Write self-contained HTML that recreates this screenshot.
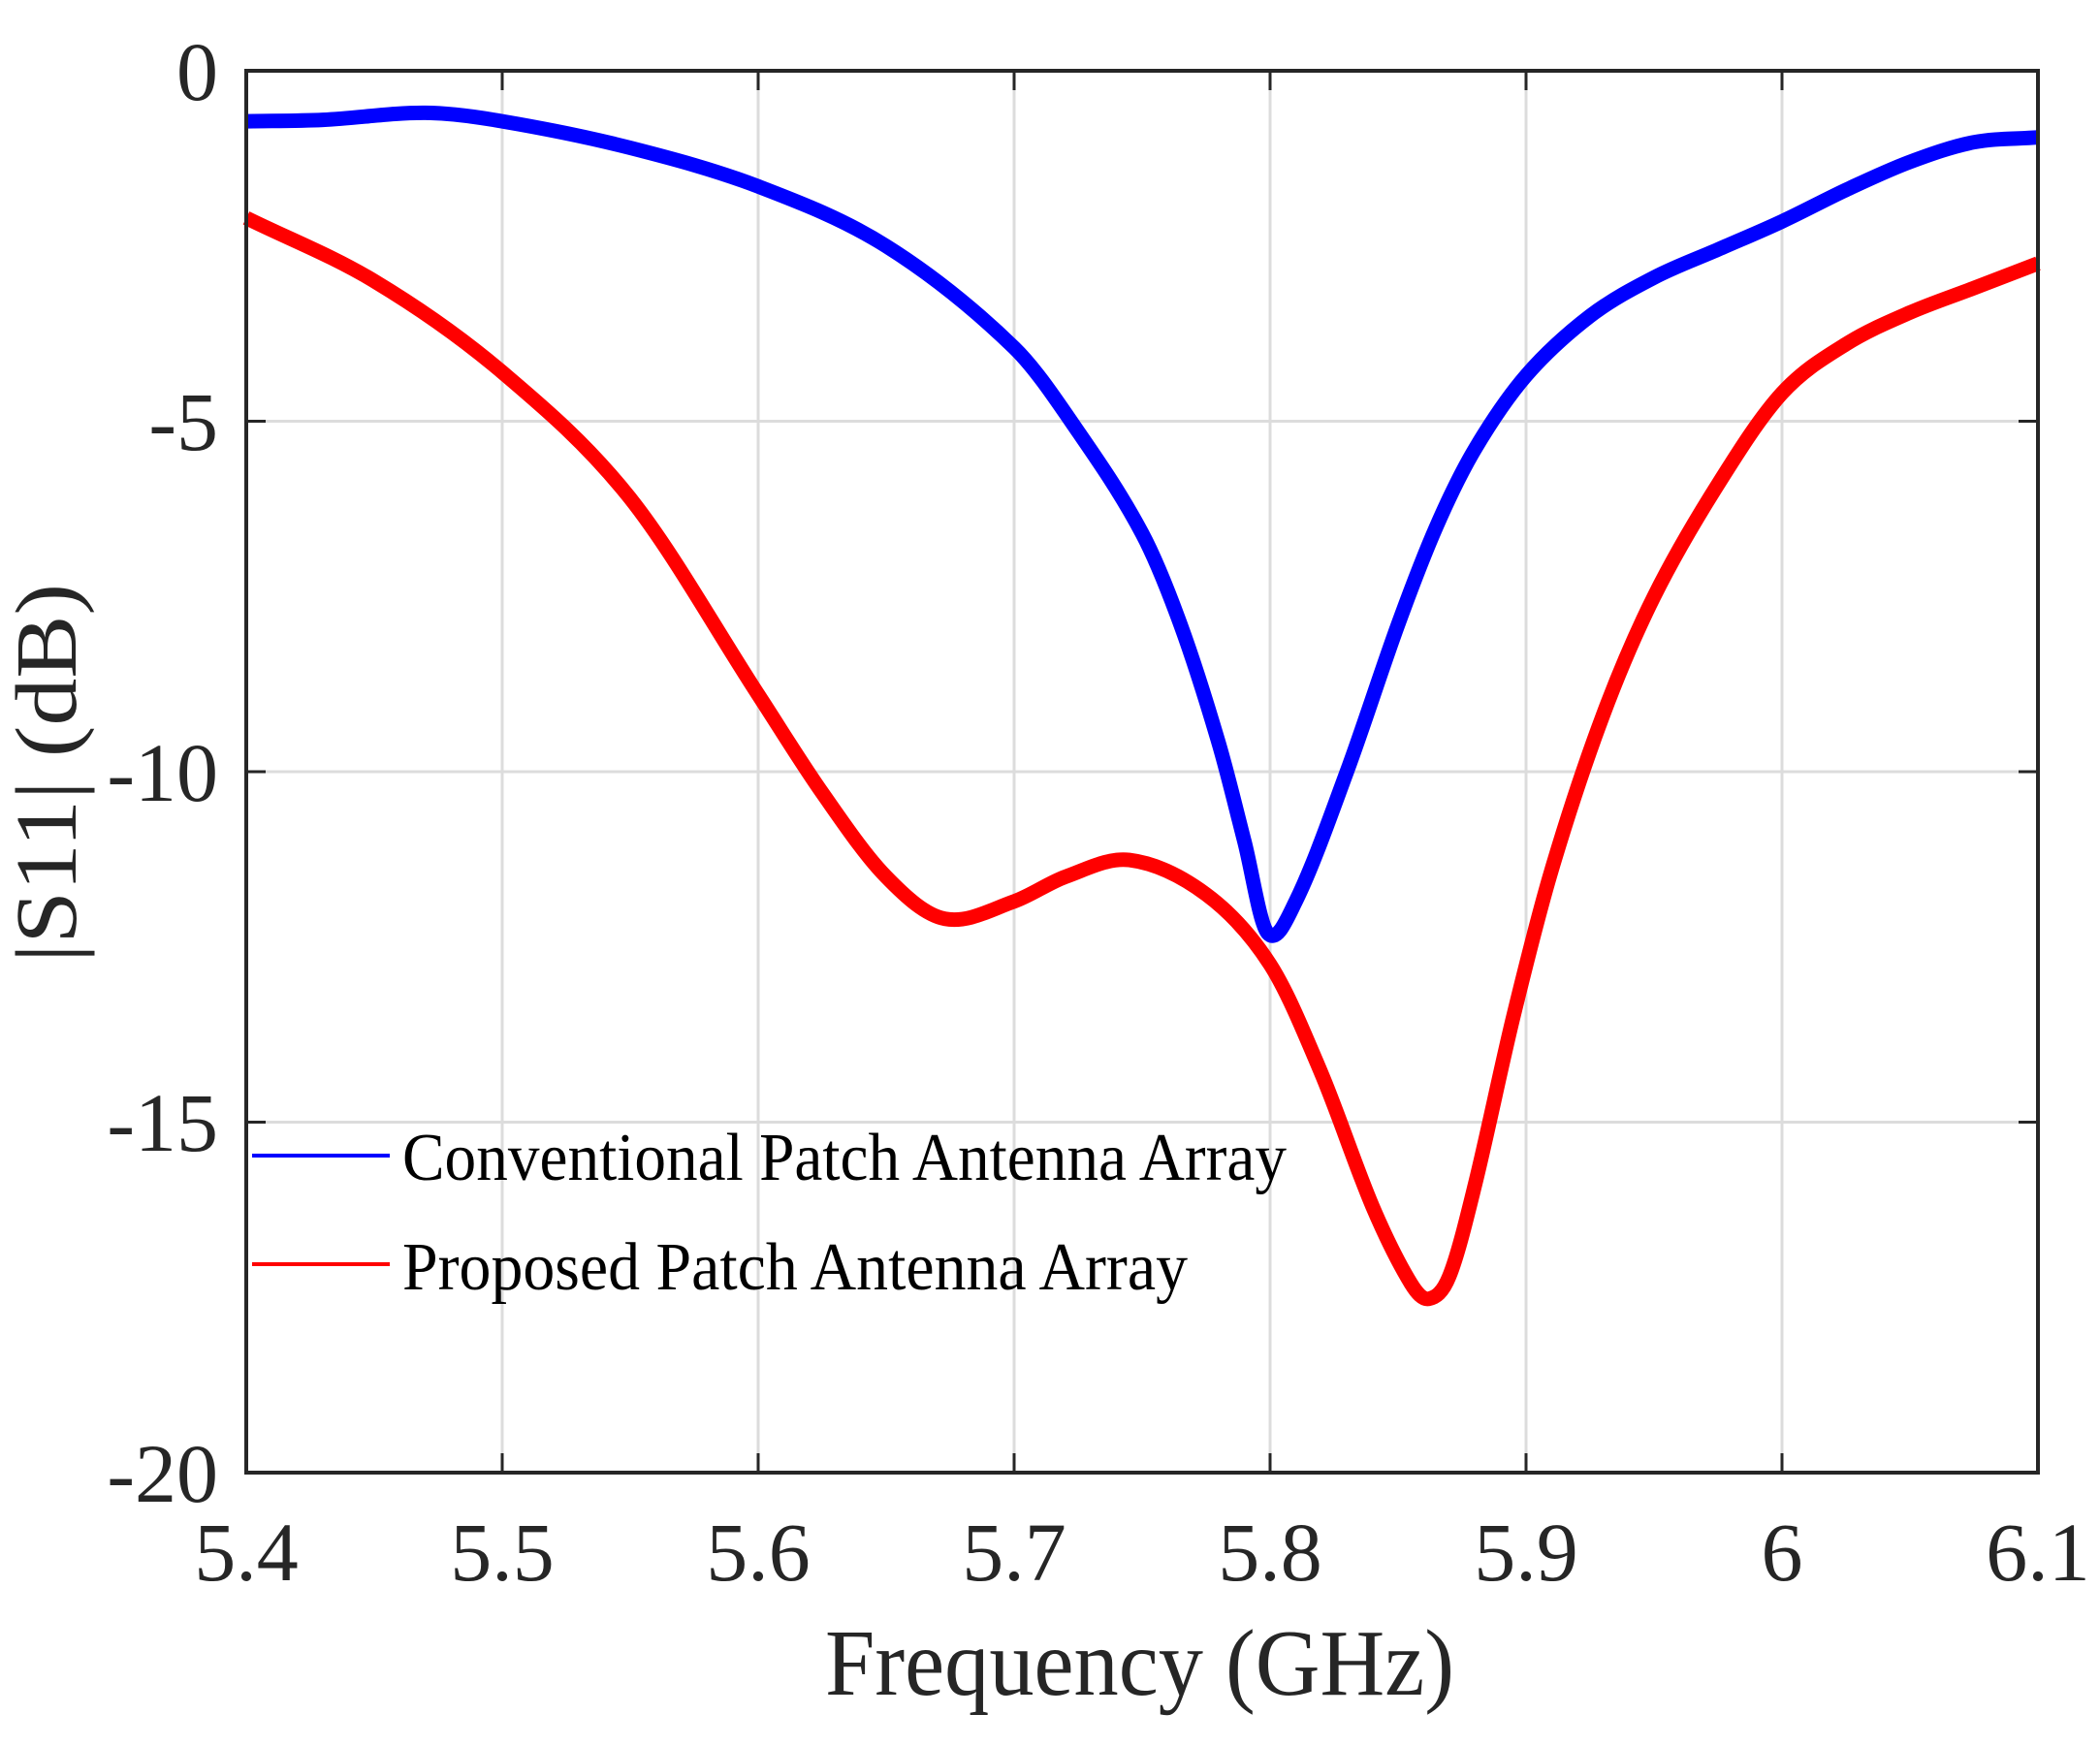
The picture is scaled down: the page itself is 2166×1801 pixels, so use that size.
<!DOCTYPE html>
<html><head><meta charset="utf-8"><style>
html,body{margin:0;padding:0;background:#fff;}
svg{display:block;}
text{font-family:"Liberation Serif",serif;fill:#262626;}
</style></head><body>
<svg id="s" width="2166" height="1801" viewBox="0 0 2166 1801" xmlns="http://www.w3.org/2000/svg">
<rect width="2166" height="1801" fill="#fff"/>
<g stroke="#dcdcdc" stroke-width="3">
<line x1="518" y1="73" x2="518" y2="1519"/><line x1="782" y1="73" x2="782" y2="1519"/>
<line x1="1046" y1="73" x2="1046" y2="1519"/><line x1="1310" y1="73" x2="1310" y2="1519"/>
<line x1="1574" y1="73" x2="1574" y2="1519"/><line x1="1838" y1="73" x2="1838" y2="1519"/>
<line x1="254" y1="434.5" x2="2102" y2="434.5"/><line x1="254" y1="796" x2="2102" y2="796"/>
<line x1="254" y1="1157.5" x2="2102" y2="1157.5"/>
</g>
<g stroke="#262626" stroke-width="3">
<line x1="518" y1="1519" x2="518" y2="1499"/><line x1="782" y1="1519" x2="782" y2="1499"/>
<line x1="1046" y1="1519" x2="1046" y2="1499"/><line x1="1310" y1="1519" x2="1310" y2="1499"/>
<line x1="1574" y1="1519" x2="1574" y2="1499"/><line x1="1838" y1="1519" x2="1838" y2="1499"/>
<line x1="518" y1="73" x2="518" y2="93"/><line x1="782" y1="73" x2="782" y2="93"/>
<line x1="1046" y1="73" x2="1046" y2="93"/><line x1="1310" y1="73" x2="1310" y2="93"/>
<line x1="1574" y1="73" x2="1574" y2="93"/><line x1="1838" y1="73" x2="1838" y2="93"/>
<line x1="254" y1="434.5" x2="274" y2="434.5"/><line x1="254" y1="796" x2="274" y2="796"/><line x1="254" y1="1157.5" x2="274" y2="1157.5"/>
<line x1="2102" y1="434.5" x2="2082" y2="434.5"/><line x1="2102" y1="796" x2="2082" y2="796"/><line x1="2102" y1="1157.5" x2="2082" y2="1157.5"/>
</g>
<path id="blue" fill="none" stroke="#0000ff" stroke-width="15" stroke-linejoin="round"/>
<path id="red" fill="none" stroke="#ff0000" stroke-width="15" stroke-linejoin="round"/>
<rect x="254" y="73" width="1848" height="1446" fill="none" stroke="#262626" stroke-width="4"/>
<g font-size="86" text-anchor="middle">
<text x="254" y="1630">5.4</text><text x="518" y="1630">5.5</text><text x="782" y="1630">5.6</text>
<text x="1046" y="1630">5.7</text><text x="1310" y="1630">5.8</text><text x="1574" y="1630">5.9</text>
<text x="1838" y="1630">6</text><text x="2102" y="1630">6.1</text>
</g>
<g font-size="86" text-anchor="end">
<text x="225" y="103">0</text><text x="225" y="464">-5</text><text x="225" y="826">-10</text>
<text x="225" y="1187">-15</text><text x="225" y="1549">-20</text>
</g>
<text x="851" y="1748" font-size="98" textLength="649" lengthAdjust="spacingAndGlyphs">Frequency (GHz)</text>
<text transform="translate(78,993) rotate(-90)" font-size="90" textLength="391" lengthAdjust="spacingAndGlyphs">|S11| (dB)</text>
<line x1="260" y1="1192" x2="402" y2="1192" stroke="#0000ff" stroke-width="4"/>
<line x1="260" y1="1304" x2="402" y2="1304" stroke="#ff0000" stroke-width="4"/>
<text x="415" y="1217" font-size="70" style="fill:#000" textLength="912" lengthAdjust="spacingAndGlyphs">Conventional Patch Antenna Array</text>
<text x="415" y="1330" font-size="70" style="fill:#000" textLength="810" lengthAdjust="spacingAndGlyphs">Proposed Patch Antenna Array</text>
</svg>
<script>
function X(f){return 254+(f-5.4)*2640;}
function Y(d){return 73-d*72.3;}
function path(pts){
  var p=pts.map(function(a){return [X(a[0]),Y(a[1])];});
  var n=p.length,m=[];
  for(var i=0;i<n;i++){
    var a=p[Math.max(0,i-1)],b=p[Math.min(n-1,i+1)];
    m.push((b[1]-a[1])/(b[0]-a[0]));
  }
  var s="M"+p[0][0].toFixed(1)+","+p[0][1].toFixed(1);
  for(var i=0;i<n-1;i++){
    var dx=(p[i+1][0]-p[i][0])/3;
    s+="C"+(p[i][0]+dx).toFixed(1)+","+(p[i][1]+m[i]*dx).toFixed(1)+" "+(p[i+1][0]-dx).toFixed(1)+","+(p[i+1][1]-m[i+1]*dx).toFixed(1)+" "+p[i+1][0].toFixed(1)+","+p[i+1][1].toFixed(1);
  }
  return s;
}
var blue=[[5.4,-0.72],[5.43,-0.7],[5.47,-0.6],[5.5,-0.72],[5.55,-1.1],[5.6,-1.65],[5.65,-2.5],[5.7,-3.95],[5.725,-5.15],[5.75,-6.6],[5.765,-7.9],[5.78,-9.6],[5.79,-11.0],[5.799,-12.3],[5.81,-11.85],[5.83,-10.0],[5.85,-7.9],[5.865,-6.5],[5.88,-5.4],[5.9,-4.35],[5.925,-3.5],[5.95,-2.95],[5.975,-2.55],[6.0,-2.15],[6.025,-1.7],[6.05,-1.3],[6.075,-1.02],[6.1,-0.95]];
var red=[[5.4,-2.1],[5.45,-3.0],[5.5,-4.3],[5.55,-6.1],[5.6,-8.9],[5.625,-10.3],[5.65,-11.5],[5.673,-12.1],[5.7,-11.85],[5.72,-11.5],[5.745,-11.26],[5.775,-11.75],[5.8,-12.75],[5.82,-14.3],[5.84,-16.2],[5.855,-17.3],[5.862,-17.52],[5.87,-17.2],[5.88,-15.9],[5.895,-13.5],[5.91,-11.4],[5.93,-9.2],[5.95,-7.5],[5.975,-5.9],[6.0,-4.6],[6.025,-3.9],[6.05,-3.45],[6.075,-3.1],[6.1,-2.75]];
document.getElementById("blue").setAttribute("d",path(blue));
document.getElementById("red").setAttribute("d",path(red));
</script>
</body></html>
